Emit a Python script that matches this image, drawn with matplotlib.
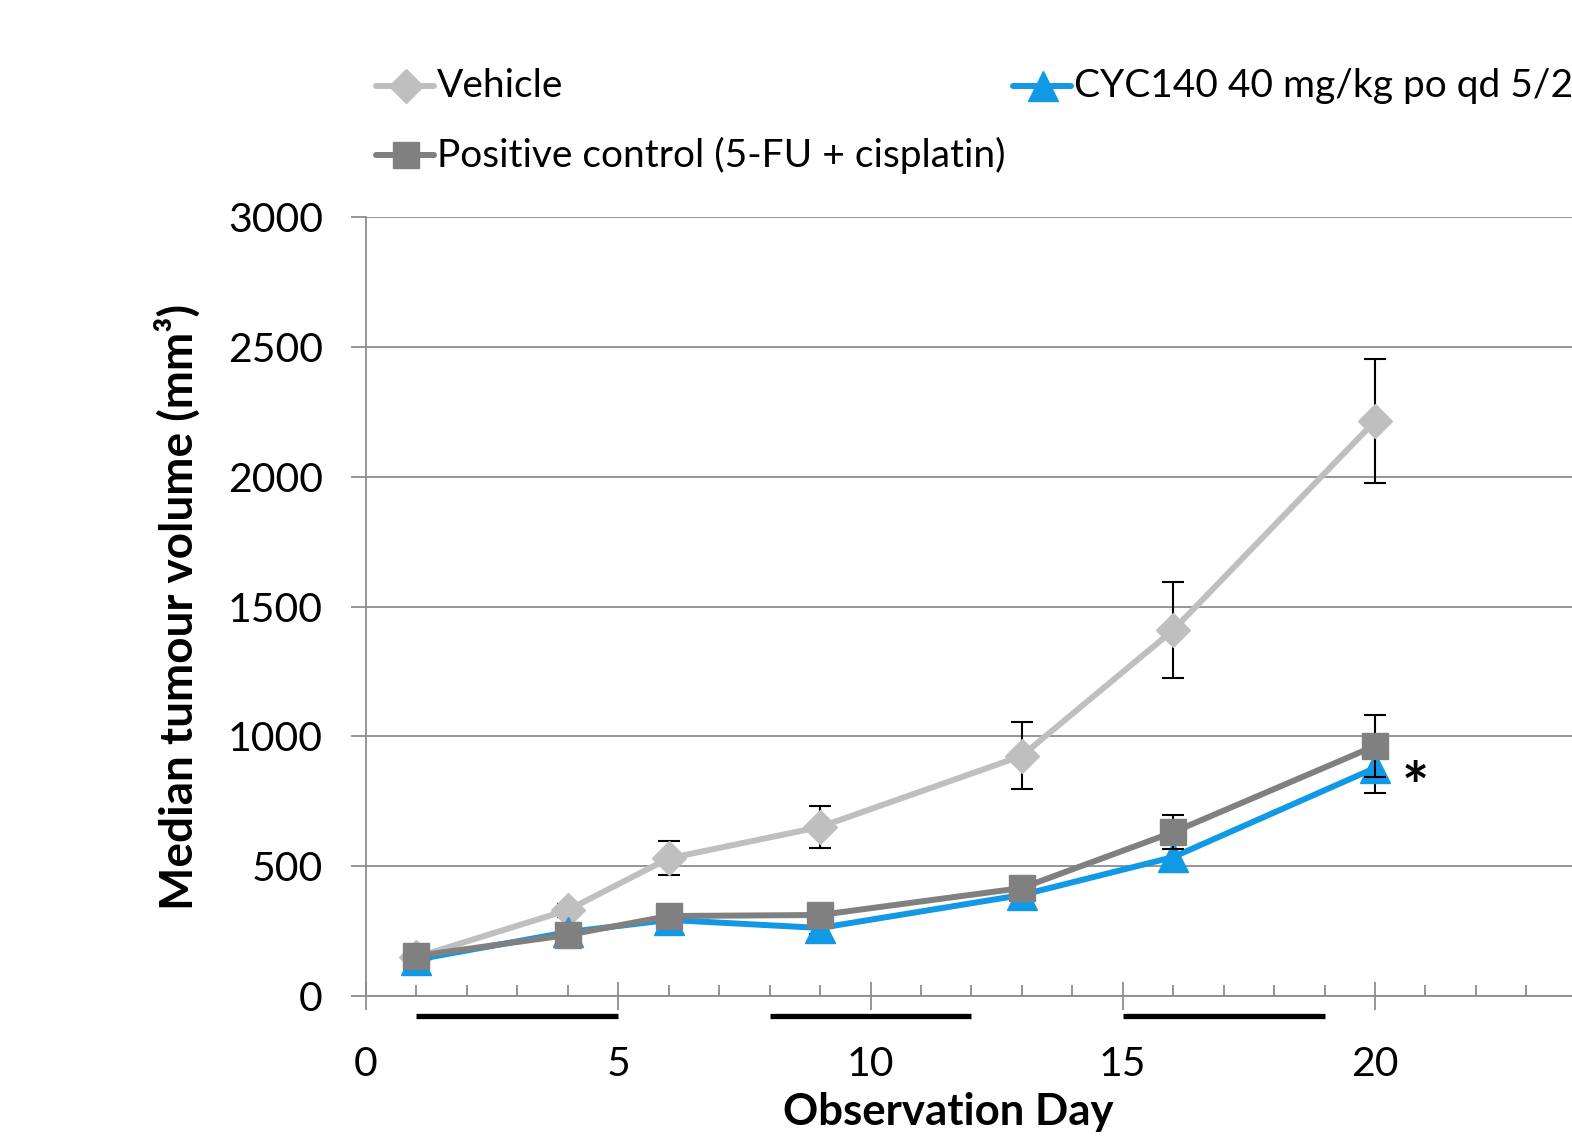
import matplotlib

matplotlib.use("Agg")
import matplotlib.pyplot as plt  # noqa: E402
from matplotlib.lines import Line2D  # noqa: E402
from matplotlib.ticker import FixedLocator, MultipleLocator  # noqa: E402

# observation days and median tumour volumes (mm^3)
days = [1, 4, 6, 9, 13, 16, 20]
vehicle = [150, 331, 530, 651, 925, 1409, 2214]
vehicle_err = [20, 25, 65, 81, 129, 185, 239]
cyc140 = [140, 246, 293, 262, 389, 535, 878]
cyc140_err = [20, 25, 25, 25, 40, 58, 96]
positive = [154, 235, 308, 312, 416, 631, 963]
positive_err = [20, 25, 25, 25, 35, 66, 119]

treatment_periods = [(1, 5), (8, 12), (15, 19)]
x_major = [0, 5, 10, 15, 20]

labels = ["Vehicle", "CYC140 40 mg/kg po qd 5/2 x 3", "Positive control (5-FU + cisplatin)"]
colors = ["#BFBFBF", "#1199E6", "#808080"]
markers = ["D", "^", "s"]
msizes = [17, 21, 19]

W, H = 1572, 1139
plt.rcParams["font.family"] = ["Lato", "DejaVu Sans"]
fig = plt.figure(figsize=(W / 100, H / 100), dpi=100)

px_per_day = 50.45
ax = fig.add_axes([366 / W, 1 - 996 / H, 25 * px_per_day / W, 779 / H])
ax.set_xlim(0, 25)
ax.set_ylim(0, 3000)

series = [(vehicle, vehicle_err), (cyc140, cyc140_err), (positive, positive_err)]
for i, (vals, errs) in enumerate(series):
    ax.errorbar(days, vals, yerr=errs, fmt="none", ecolor="black", elinewidth=1.5,
                capsize=8, capthick=1.5, zorder=2 + i)
    ax.plot(days, vals, color=colors[i], lw=4.3, marker=markers[i], ms=msizes[i],
            mfc=colors[i], mec=colors[i], solid_capstyle="round", solid_joinstyle="round",
            zorder=2.5 + i, clip_on=False)

ax.text(20.8, 790, "*", fontsize=46, fontweight="bold", ha="center", va="center")

# dosing periods below the x axis
for s, e in treatment_periods:
    ax.plot([s, e], [-0.026, -0.026], color="black", lw=3.8,
            transform=ax.get_xaxis_transform(), clip_on=False, solid_capstyle="butt")

ax.yaxis.set_major_locator(MultipleLocator(500))
ax.xaxis.set_major_locator(FixedLocator(x_major))
ax.xaxis.set_minor_locator(MultipleLocator(1))
ax.grid(axis="y", color="#8C8C8C", lw=1.3)
ax.set_axisbelow(True)
for side in ["top", "right"]:
    ax.spines[side].set_visible(False)
for side in ["left", "bottom"]:
    ax.spines[side].set_color("#8C8C8C")
    ax.spines[side].set_linewidth(1.3)
ax.tick_params(axis="y", direction="out", length=11, width=1.3, color="#8C8C8C",
               labelsize=29.5, pad=20)
ax.tick_params(axis="x", which="major", direction="inout", length=20, width=1.3,
               color="#8C8C8C", labelsize=29.5, pad=26)
ax.tick_params(axis="x", which="minor", direction="in", length=8, width=1.3, color="#8C8C8C")

ax.set_ylabel("Median tumour volume (mm³)", fontsize=33, fontweight="bold")
ax.yaxis.set_label_coords(-(366 - 178) / (25 * px_per_day), 0.5)
ax.set_xlabel("Observation Day", fontsize=31.5, fontweight="bold")
ax.xaxis.set_label_coords((948 - 366) / (25 * px_per_day), -(1112 - 996) / 779)
ax.xaxis.label.set_va("center")
ax.yaxis.label.set_va("center")

# legend drawn in figure pixels
legend_pos = [(376, 86), (1013, 86), (376, 155)]
for i, (x0, y0) in enumerate(legend_pos):
    yy = 1 - y0 / H
    fig.add_artist(Line2D([x0 / W, (x0 + 30) / W, (x0 + 58) / W], [yy, yy, yy],
                          color=colors[i], lw=4.3, marker=markers[i], ms=msizes[i],
                          markevery=[1], solid_capstyle="round"))
    fig.text((x0 + 61) / W, yy, labels[i], fontsize=28, va="center", ha="left")

fig.savefig("out.png", dpi=100)
